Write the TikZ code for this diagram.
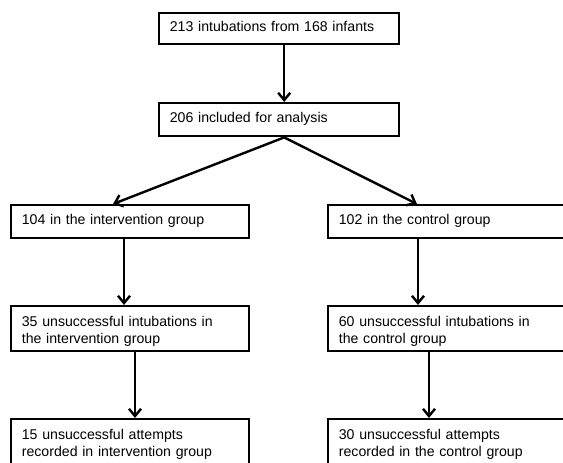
\documentclass[tikz,border=0pt]{standalone}
\usepackage{fontspec}
\setmainfont[WordSpace=1.4]{Liberation Sans}
\usetikzlibrary{arrows.meta,calc}
\begin{document}
\begin{tikzpicture}[x=0.75pt,y=-0.75pt,
  box/.style={draw=black,line width=1.8pt,anchor=north west,inner xsep=8pt,inner ysep=1pt,
    align=left,font=\fontsize{10.6pt}{12.75pt}\selectfont,text height=8pt,text depth=3.5pt},
  topbox/.style={box,text width=164pt,minimum height=23.25pt},
  colbox/.style={box,text width=162.5pt,minimum height=24.75pt},
  twoline/.style={colbox,text depth=12pt,minimum height=33.75pt},
  arr/.style={line width=1.8pt,-{Straight Barb[length=5.5pt,width=9pt]}}]
\path[use as bounding box,fill=white] (0,0) rectangle (563,462);
\clip (0,0) rectangle (563,462);
\node[topbox] (A) at (158,12) {213 intubations from 168 infants};
\node[topbox,minimum height=24.75pt] (B) at (158,102) {206 included for analysis};
\node[colbox] (C) at (10,204) {104 in the intervention group};
\node[colbox] (D) at (327,204) {102 in the control group};
\node[twoline] (E) at (10,305) {35 unsuccessful intubations in\\the intervention group};
\node[twoline] (F) at (327,305) {60 unsuccessful intubations in\\the control group};
\node[twoline,minimum height=34.5pt,text depth=12.5pt] (G) at (10,418) {15 unsuccessful attempts\\recorded in intervention group};
\node[twoline,minimum height=34.5pt,text depth=12.5pt] (H) at (327,418) {30 unsuccessful attempts\\recorded in the control group};
\draw[arr] ([xshift=3.75pt]A.south) -- ([xshift=3.75pt]A.south |- B.north);
\coordinate (J) at ([xshift=3.75pt]B.south);
\draw[arr] (J) -- ([xshift=77.25pt]C.north west);
\draw[arr] (J) -- ([xshift=67.5pt]D.north west);
\draw[arr] ([xshift=85.5pt]C.south west) -- ([xshift=85.5pt]C.south west |- E.north);
\draw[arr] ([xshift=68.25pt]D.south west) -- ([xshift=68.25pt]D.south west |- F.north);
\draw[arr] ([xshift=93.75pt]E.south west) -- ([xshift=93.75pt]E.south west |- G.north);
\draw[arr] ([xshift=76.5pt]F.south west) -- ([xshift=76.5pt]F.south west |- H.north);
\end{tikzpicture}
\end{document}
